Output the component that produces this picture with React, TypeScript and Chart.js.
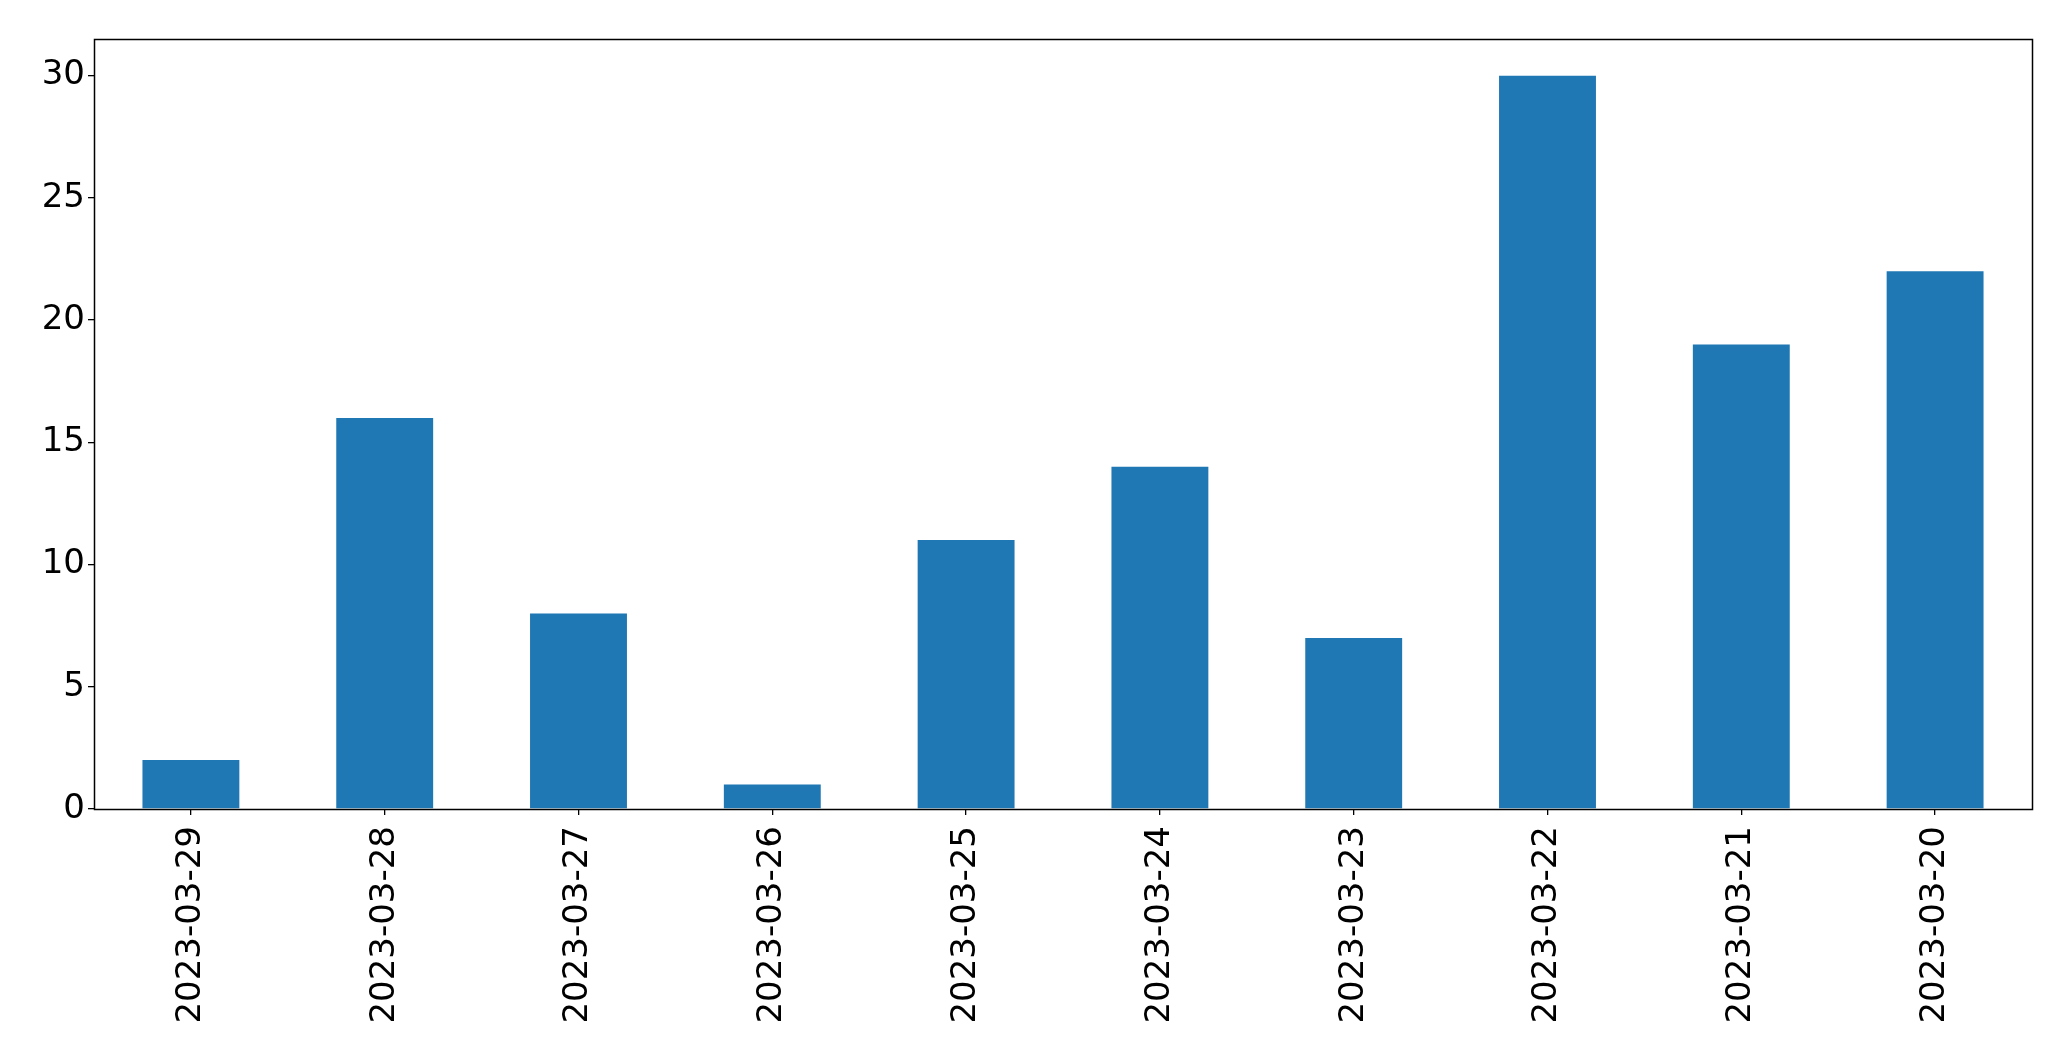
import React, { useEffect, useRef } from "react";
import { Chart, registerables } from "chart.js";

Chart.register(...registerables);

const categories = [
  "2023-03-29",
  "2023-03-28",
  "2023-03-27",
  "2023-03-26",
  "2023-03-25",
  "2023-03-24",
  "2023-03-23",
  "2023-03-22",
  "2023-03-21",
  "2023-03-20",
];
const counts = [2, 16, 8, 1, 11, 14, 7, 30, 19, 22];
const yTickValues = [0, 5, 10, 15, 20, 25, 30];

const frame = {
  id: "frame",
  afterDraw(chart: any) {
    const { ctx, chartArea } = chart;
    ctx.save();
    ctx.strokeStyle = "#000";
    ctx.lineWidth = 1.5;
    const l = Math.round(chartArea.left) + 0.5;
    const t = Math.round(chartArea.top) + 0.5;
    const r = Math.round(chartArea.right) + 0.5;
    const b = Math.round(chartArea.bottom) + 0.5;
    ctx.strokeRect(l, t, r - l, b - t);
    ctx.restore();
  },
};

export default function App() {
  const ref = useRef<HTMLCanvasElement>(null);
  useEffect(() => {
    document.body.style.margin = "0";
    const font = { family: "DejaVu Sans", size: 34 };
    const chart = new Chart(ref.current!, {
      type: "bar",
      data: {
        labels: categories,
        datasets: [
          {
            data: counts,
            backgroundColor: "#1f77b4",
            barPercentage: 0.5,
            categoryPercentage: 1,
          },
        ],
      },
      options: {
        animation: false,
        responsive: false,
        devicePixelRatio: 1,
        layout: { padding: { left: 0, top: 39, right: 39, bottom: 0 } },
        plugins: { legend: { display: false }, tooltip: { enabled: false } },
        scales: {
          x: {
            offset: true,
            grid: { offset: false, drawOnChartArea: false, color: "#000", tickLength: 6, lineWidth: 1.3 },
            border: { display: false },
            ticks: { font, color: "#000", minRotation: 90, maxRotation: 90, padding: 11, autoSkip: false },
            afterFit(scale: any) {
              scale.height = 252;
            },
          },
          y: {
            min: 0,
            max: 31.5,
            afterBuildTicks(scale: any) {
              scale.ticks = yTickValues.map((v) => ({ value: v }));
            },
            grid: { drawOnChartArea: false, color: "#000", tickLength: 6, lineWidth: 1.3 },
            border: { display: false },
            ticks: { font, color: "#000", padding: 3 },
            afterFit(scale: any) {
              scale.width = 94;
            },
          },
        },
      },
      plugins: [frame],
    });
    return () => chart.destroy();
  }, []);
  return (
    <div style={{ position: "absolute", left: 0, top: 0, width: 2071, height: 1061, background: "#fff" }}>
      <canvas ref={ref} width={2071} height={1061} style={{ width: 2071, height: 1061 }} />
    </div>
  );
}
